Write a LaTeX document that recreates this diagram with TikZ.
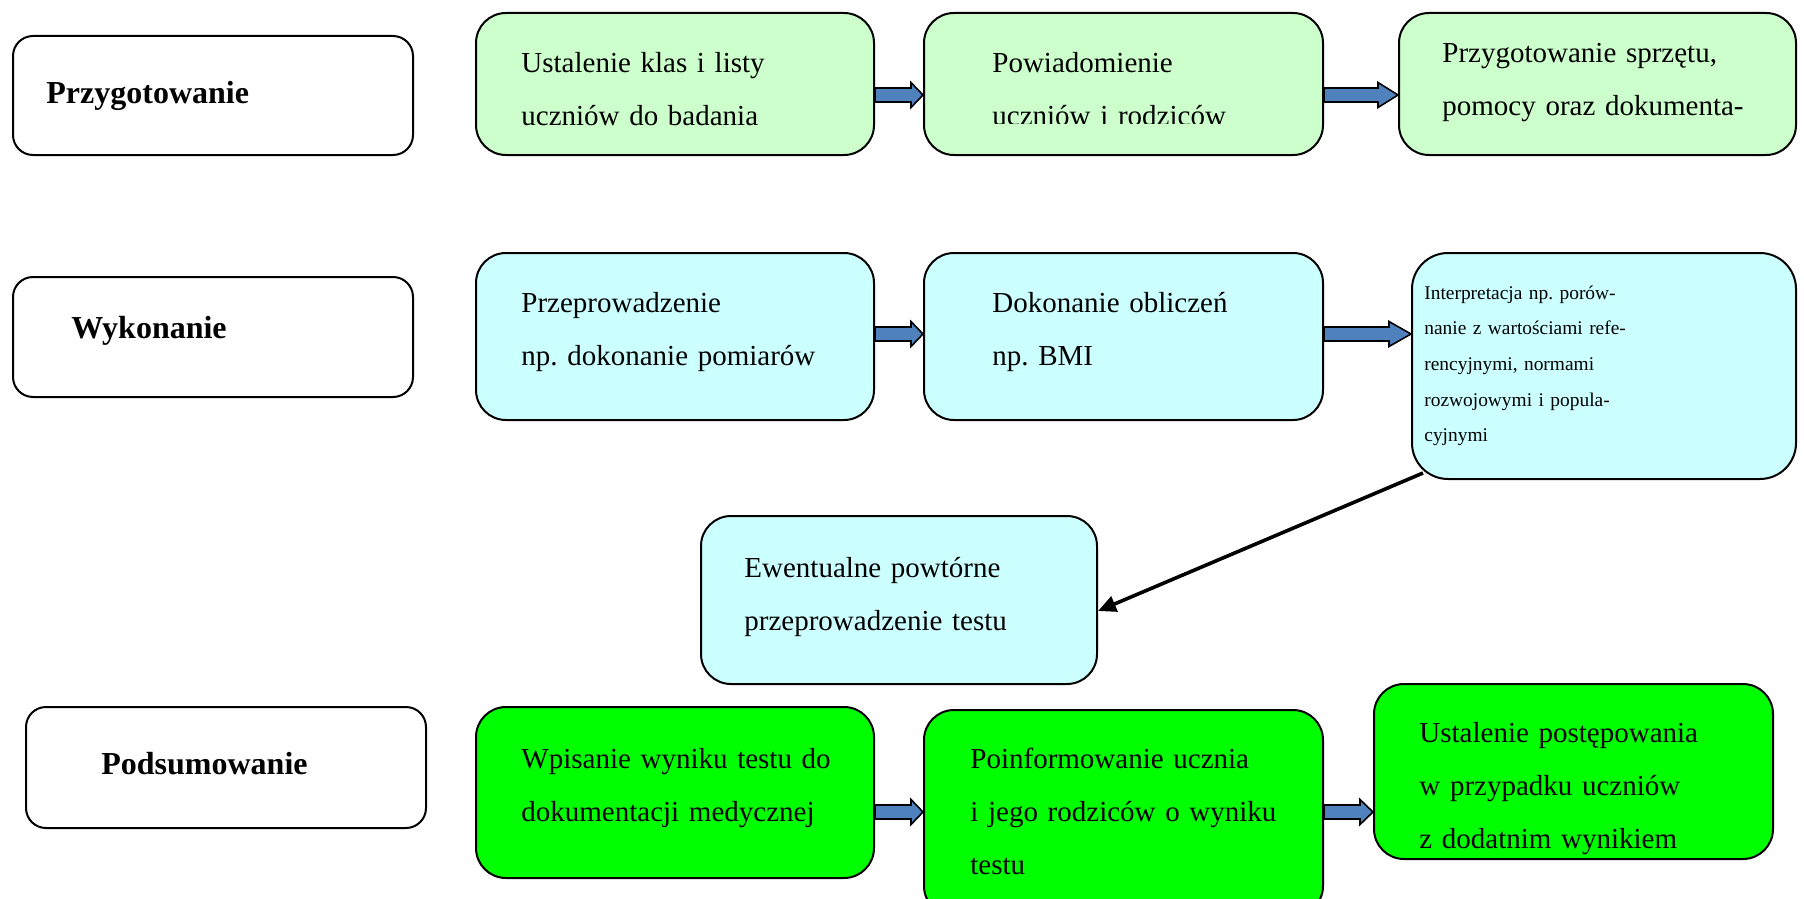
\documentclass[tikz,border=0pt]{standalone}
\usepackage{fontspec}
\setmainfont{Liberation Serif}
\usetikzlibrary{calc,arrows.meta}
\definecolor{lgreen}{HTML}{CCFFCC}
\definecolor{lcyan}{HTML}{CCFFFF}
\definecolor{bgreen}{HTML}{00FF00}
\definecolor{arrblue}{HTML}{4F81BD}
\tikzset{
  box/.style={draw=black, line width=1pt, rounded corners=15pt, inner sep=0pt},
  lbox/.style={box, fill=white, rounded corners=10pt},
  gbox/.style={box, fill=lgreen},
  cbox/.style={box, fill=lcyan},
  bbox/.style={box, fill=bgreen},
  txt/.style={anchor=base west, inner sep=0pt, text width=190pt, align=left,
    font=\fontsize{14.5pt}{26.5pt}\selectfont\frenchspacing},
  stxt/.style={txt, font=\fontsize{9.7pt}{17.85pt}\selectfont\frenchspacing},
  lbl/.style={anchor=base west, inner sep=0pt, font=\fontsize{16pt}{19pt}\selectfont\bfseries},
  barrow/.style={fill=arrblue, draw=black, line width=0.8pt, line join=miter},
  link/.style={draw=black, line width=1.8pt, -{Triangle[length=9pt,width=8pt]}}
}
\newcommand\bx[6]{\node[#2, anchor=north west, minimum width={(#5-#3)*0.5pt}, minimum height={(#6-#4)*0.5pt}] (#1) at (#3,#4) {};}
\newcommand\blockarr[3]{\draw[barrow] let \p1=#1, \p2=#2 in
  (\x1,\y1+3.5pt) -- (\x2-#3pt,\y1+3.5pt) -- (\x2-#3pt,\y1+6.25pt) -- (\x2,\y1)
  -- (\x2-#3pt,\y1-6.25pt) -- (\x2-#3pt,\y1-3.5pt) -- (\x1,\y1-3.5pt) -- cycle;}
\begin{document}
\frenchspacing
\begin{tikzpicture}[x=0.5pt,y=-0.5pt]
\useasboundingbox (0,0) rectangle (1804,899);
% rows
\coordinate (r1) at (0,95);
\coordinate (r2) at (0,334);
\coordinate (r3) at (0,812);
% boxes
\bx{l1}{lbox}{12}{35}{412}{154}
\bx{g1}{gbox}{475}{12}{873}{154}
\bx{g2}{gbox}{923}{12}{1322}{154}
\bx{g3}{gbox}{1398}{12}{1795}{154}
\bx{l2}{lbox}{12}{276}{412}{396}
\bx{c1}{cbox}{475}{252}{873}{419}
\bx{c2}{cbox}{923}{252}{1322}{419}
\node[cbox, rounded corners=18pt, anchor=north west, minimum width=192pt, minimum height=113pt] (c3) at (1411,252) {};
\bx{e}{cbox}{700}{515}{1096}{683}
\bx{l3}{lbox}{25}{706}{425}{827}
\bx{b1}{bbox}{475}{706}{873}{877}
\bx{b2}{bbox}{923}{709}{1322}{915}
\bx{b3}{bbox}{1373}{683}{1772}{858}
% labels
\node[lbl] (l1t) at (46,104) {Przygotowanie};
\node[lbl] (l2t) at (71,338) {Wykonanie};
\node[lbl] (l3t) at (101,774) {Podsumowanie};
% texts
\node[txt] (g1t) at (521,73) {Ustalenie klas i listy\\uczniów do badania};
\begin{scope}
  \clip (923,12) rectangle (1322,124);
  \node[txt] (g2t) at (992,73) {Powiadomienie\\uczniów i rodziców};
\end{scope}
\node[txt] (g3t) at (1442,63) {Przygotowanie sprzętu,\\pomocy oraz dokumenta-};
\node[txt] (c1t) at (521,312.5) {Przeprowadzenie\\np. dokonanie pomiarów};
\node[txt] (c2t) at (992,312.5) {Dokonanie obliczeń\\np. BMI};
\node[stxt] (c3t) at (1424,299) {Interpretacja np. porów-\\nanie z wartościami refe-\\rencyjnymi, normami\\rozwojowymi i popula-\\cyjnymi};
\node[txt] (et) at (744,577) {Ewentualne powtórne\\przeprowadzenie testu};
\node[txt] (b1t) at (521,768) {Wpisanie wyniku testu do\\dokumentacji medycznej};
\node[txt] (b2t) at (970,768) {Poinformowanie ucznia\\i jego rodziców o wyniku\\testu};
\node[txt] (b3t) at (1419,742) {Ustalenie postępowania\\w przypadku uczniów\\z dodatnim wynikiem};
% block arrows
\blockarr{(g1.east|-r1)}{(g2.west|-r1)}{6}
\blockarr{(g2.east|-r1)}{(g3.west|-r1)}{10}
\blockarr{(c1.east|-r2)}{(c2.west|-r2)}{6}
\blockarr{(c2.east|-r2)}{(c3.west|-r2)}{11}
\blockarr{(b1.east|-r3)}{(b2.west|-r3)}{6}
\blockarr{(b2.east|-r3)}{(b3.west|-r3)}{6.5}
% link arrow
\draw[link] ([shift={(12,-7)}]c3.south west) -- ([shift={(0,11)}]e.east);
\end{tikzpicture}
\end{document}
